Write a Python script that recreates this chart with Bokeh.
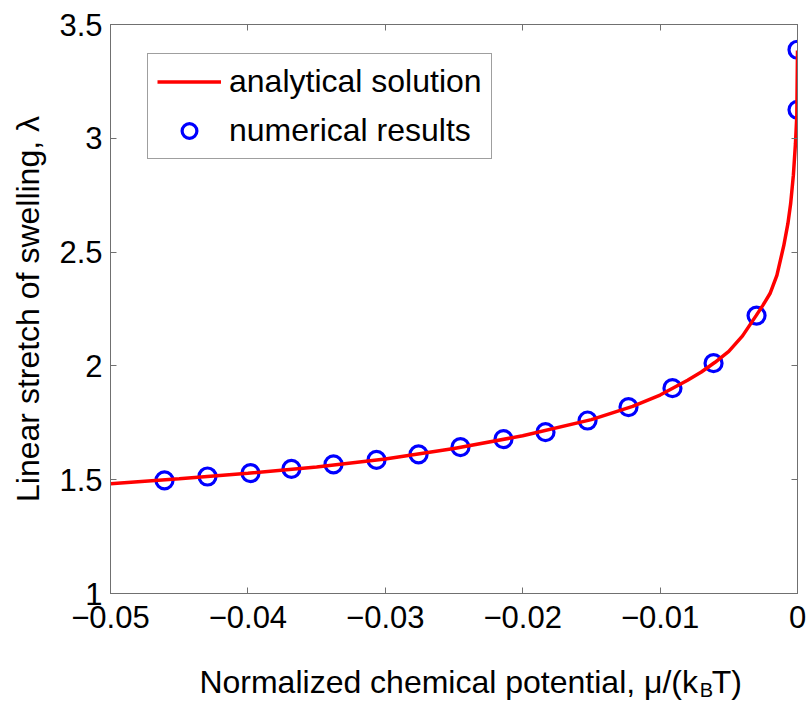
from bokeh.plotting import figure
from bokeh.layouts import column
from bokeh.models import (Legend, LegendItem, Label, LinearAxis, FixedTicker,
                          CustomJSTickFormatter, Range1d, ColumnDataSource)
from bokeh.embed import file_html
from bokeh.resources import INLINE

# ---- data ----
mu_curve = [-0.0500, -0.0450, -0.0400, -0.0350, -0.0300, -0.0250, -0.0200,
            -0.0150, -0.0120, -0.0100, -0.0080, -0.0070, -0.0060, -0.0050,
            -0.0040, -0.0030, -0.0025, -0.0020, -0.0015, -0.0010, -0.0007,
            -0.0005, -0.0003, -0.00015, -0.00005, 0.0]
lam_curve = [1.482, 1.504, 1.528, 1.556, 1.591, 1.637, 1.693,
             1.764, 1.822, 1.872, 1.937, 1.973, 2.016, 2.064,
             2.132, 2.222, 2.268, 2.318, 2.398, 2.528, 2.625,
             2.712, 2.838, 2.975, 3.100, 3.386]

mu_num = [-0.04607, -0.04294, -0.03981, -0.03683, -0.03377, -0.03064,
          -0.02758, -0.02453, -0.02140, -0.01834, -0.01528, -0.01230,
          -0.00910, -0.00611, -0.00298, 0.0, 0.0]
lam_num = [1.497, 1.514, 1.529, 1.548, 1.567, 1.587,
           1.611, 1.643, 1.678, 1.709, 1.760, 1.819,
           1.902, 2.012, 2.221, 3.125, 3.389]

x_ticks = [-0.05, -0.04, -0.03, -0.02, -0.01, 0]
x_tick_labels = ["\u22120.05", "\u22120.04", "\u22120.03", "\u22120.02", "\u22120.01", "0"]
y_ticks = [1, 1.5, 2, 2.5, 3, 3.5]
y_tick_labels = ["1", "1.5", "2", "2.5", "3", "3.5"]

series_names = ["analytical solution", "numerical results"]
y_label = "Linear stretch of swelling, \u03bb"
x_label_main = "Normalized chemical potential, \u03bc/(k"
x_label_sub = "B"
x_label_end = "T)"

FONT = "Liberation Sans"
AXIS_COLOR = "#707070"
W = 808
H1 = 640
H2 = 62

p = figure(width=W, height=H1,
           x_range=Range1d(-0.05, 0), y_range=Range1d(1, 3.5),
           output_backend="svg", toolbar_location=None,
           min_border_left=110, min_border_right=W - 797,
           min_border_top=24, min_border_bottom=H1 - 593)
p.title.visible = False
p.background_fill_color = "white"
p.border_fill_color = "white"
p.xgrid.visible = False
p.ygrid.visible = False
p.outline_line_color = AXIS_COLOR
p.outline_line_width = 1

xa = p.xaxis[0]
xa.ticker = FixedTicker(ticks=x_ticks)
xa.major_label_overrides = dict(zip(x_ticks, x_tick_labels))
ya = p.yaxis[0]
ya.ticker = FixedTicker(ticks=y_ticks)
ya.major_label_overrides = dict(zip(y_ticks, y_tick_labels))
for ax in (xa, ya):
    ax.axis_line_color = AXIS_COLOR
    ax.major_tick_line_color = AXIS_COLOR
    ax.major_tick_in = 6
    ax.major_tick_out = 0
    ax.minor_tick_in = 0
    ax.minor_tick_out = 0
    ax.major_label_text_font = FONT
    ax.major_label_text_font_size = "31px"
    ax.major_label_text_color = "black"
xa.major_label_standoff = 12
ya.major_label_standoff = 8
ya.axis_label = y_label
ya.axis_label_text_font = FONT
ya.axis_label_text_font_size = "32px"
ya.axis_label_text_font_style = "normal"
ya.axis_label_text_color = "black"
ya.axis_label_standoff = 10

for side, tk in (("above", x_ticks), ("right", y_ticks)):
    ax = LinearAxis(ticker=FixedTicker(ticks=tk),
                    formatter=CustomJSTickFormatter(code="return ''"),
                    axis_line_color=AXIS_COLOR, major_tick_line_color=AXIS_COLOR,
                    major_tick_in=6, major_tick_out=0,
                    minor_tick_in=0, minor_tick_out=0,
                    major_label_standoff=0, major_label_text_font_size="1px")
    p.add_layout(ax, side)

num_src = ColumnDataSource(dict(x=mu_num, y=lam_num))
cur_src = ColumnDataSource(dict(x=mu_curve, y=lam_curve))
sc = p.scatter("x", "y", source=num_src, marker="circle", size=17,
               fill_color=None, line_color="#0000ff", line_width=3.2)
ln = p.line("x", "y", source=cur_src, line_color="#ff0000", line_width=3.5)

legend = Legend(items=[LegendItem(label=series_names[0], renderers=[ln]),
                       LegendItem(label=series_names[1], renderers=[sc])],
                location=(37, 434), orientation="vertical",
                glyph_width=64, glyph_height=37, label_height=37,
                label_standoff=8, padding=9, spacing=12, margin=0,
                label_text_font=FONT, label_text_font_size="32px",
                label_text_color="black",
                border_line_color="#404040", border_line_width=1,
                background_fill_color="white", background_fill_alpha=1)
p.add_layout(legend)

# strip below the chart holding the x-axis title (with subscript B)
p2 = figure(width=W, height=H2, x_range=Range1d(0, W), y_range=Range1d(0, H2),
            output_backend="svg", toolbar_location=None,
            x_axis_type=None, y_axis_type=None, min_border=0,
            min_border_left=0, min_border_right=0,
            min_border_top=0, min_border_bottom=0)
p2.title.visible = False
p2.xgrid.visible = False
p2.ygrid.visible = False
p2.outline_line_color = None
p2.background_fill_color = "white"
p2.border_fill_color = "white"
base = H1 + H2 - 681
p2.add_layout(Label(x=691, y=base, text=x_label_main, text_align="right",
                    text_baseline="alphabetic", text_font=FONT,
                    text_font_size="32px", text_color="black"))
p2.add_layout(Label(x=693, y=base - 8, text=x_label_sub, text_align="left",
                    text_baseline="alphabetic", text_font=FONT,
                    text_font_size="20px", text_color="black"))
p2.add_layout(Label(x=707, y=base, text=x_label_end, text_align="left",
                    text_baseline="alphabetic", text_font=FONT,
                    text_font_size="32px", text_color="black"))

layout = column(p, p2, spacing=0)
open("out.html", "w").write(file_html(layout, INLINE))
